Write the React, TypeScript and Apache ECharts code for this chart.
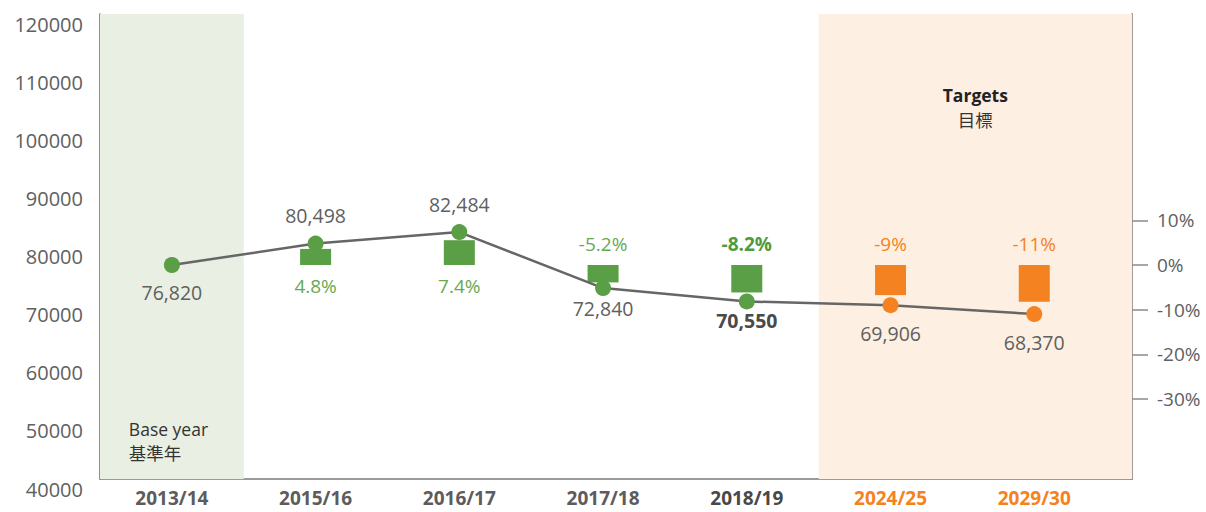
import { useEffect, useRef } from "react";
import * as echarts from "echarts";

// ---- data ----
const categories = ["2013/14", "2015/16", "2016/17", "2017/18", "2018/19", "2024/25", "2029/30"];
const emissions = [76820, 80498, 82484, 72840, 70550, 69906, 68370];
const changePct: (number | null)[] = [null, 4.8, 7.4, -5.2, -8.2, -9, -11];
const kinds = ["base", "actual", "actual", "actual", "latest", "target", "target"];
const leftTicks = [40000, 50000, 60000, 70000, 80000, 90000, 100000, 110000, 120000];
const pctTicks = [-30, -20, -10, 0, 10];
const bandBaseLines = ["Base year", "基準年"];
const bandTargetTitle = "Targets";
const bandTargetSub = "目標";

// ---- styles ----
const GREEN = "#5a9e45";
const GREEN_TEXT = "#68a950";
const GREEN_DARK_TEXT = "#4f9a3c";
const ORANGE = "#f58220";
const GREY_TEXT = "#606060";
const FONT = "'Open Sans', 'Noto Sans CJK TC', sans-serif";
const valueLabelPos = ["bottom", "top", "top", "bottom", "bottom", "bottom", "bottom"];
const valueLabelDist = [10, 10, 10, 3, 1, 11, 11];

const Y_MIN = leftTicks[0];
const Y_MAX = leftTicks[leftTicks.length - 1];
const Y_STEP = leftTicks[1] - leftTicks[0];
const BASE = emissions[0];
const PCT_MIN = (Y_MIN / BASE - 1) * 100;
const PCT_MAX = (Y_MAX / BASE - 1) * 100;
const BAR_SCALE = 0.75;
const X_MIN = -0.5;
const X_MAX = 6.68;

const isTarget = (i: number) => kinds[i] === "target";
const markColor = (i: number) => (isTarget(i) ? ORANGE : GREEN);

export default function App() {
  const ref = useRef<HTMLDivElement>(null);

  useEffect(() => {
    if (!ref.current) return;
    const chart = echarts.init(ref.current, undefined, { renderer: "svg" });

    const barData = changePct
      .map((p, i) => {
        if (p === null) return null;
        const neg = p < 0;
        const latest = kinds[i] === "latest";
        return {
          value: [i, p],
          itemStyle: { color: markColor(i) },
          label: {
            show: true,
            position: neg ? "top" : "bottom",
            distance: neg ? 11 : 12,
            formatter: `${p}%`,
            fontFamily: FONT,
            fontSize: 19,
            fontWeight: latest ? "bold" : "normal",
            color: isTarget(i) ? ORANGE : latest ? GREEN_DARK_TEXT : GREEN_TEXT,
          },
        };
      })
      .filter((d) => d !== null);

    const lineData = emissions.map((v, i) => ({
      value: [i, v],
      itemStyle: { color: markColor(i) },
      label: {
        show: true,
        position: valueLabelPos[i],
        distance: valueLabelDist[i],
        formatter: v.toLocaleString("en-US"),
        fontFamily: FONT,
        fontSize: 19.5,
        fontWeight: kinds[i] === "latest" ? "bold" : "normal",
        color: kinds[i] === "latest" ? "#4a4a4a" : GREY_TEXT,
      },
    }));

    const option: any = {
      animation: false,
      backgroundColor: "#ffffff",
      textStyle: { fontFamily: FONT },
      grid: { left: 100, right: 1206 - 1132, top: 14, bottom: 33, containLabel: false, outerBoundsMode: "none" },
      xAxis: {
        type: "value",
        min: X_MIN,
        max: X_MAX,
        splitLine: { show: false },
        axisTick: { show: false },
        axisLine: { show: true, onZero: false, lineStyle: { color: "#7a7a7a", width: 1.5 } },
        axisLabel: {
          customValues: categories.map((_, i) => i),
          margin: 9,
          formatter: (v: number) => {
            const i = Math.round(v);
            return `{${isTarget(i) ? "o" : kinds[i] === "latest" ? "d" : "g"}|${categories[i]}}`;
          },
          rich: {
            g: { fontFamily: FONT, fontSize: 19, fontWeight: "bold", color: "#5c5c5c" },
            d: { fontFamily: FONT, fontSize: 19, fontWeight: "bold", color: "#484848" },
            o: { fontFamily: FONT, fontSize: 19, fontWeight: "bold", color: ORANGE },
          },
        },
      },
      yAxis: [
        {
          type: "value",
          position: "left",
          min: Y_MIN,
          max: Y_MAX,
          interval: Y_STEP,
          splitLine: { show: false },
          axisTick: { show: false },
          axisLine: { show: true, onZero: false, lineStyle: { color: "#6a6a6a", width: 1.5 } },
          axisLabel: {
            margin: 17,
            fontFamily: FONT,
            fontSize: 20,
            color: GREY_TEXT,
            verticalAlign: "top",
            lineHeight: 20,
            formatter: (v: number) => String(v),
          },
        },
        {
          type: "value",
          position: "right",
          min: PCT_MIN,
          max: PCT_MAX,
          splitLine: { show: false },
          axisLine: { show: true, onZero: false, lineStyle: { color: "#a39b94", width: 2 } },
          axisTick: {
            show: true,
            customValues: pctTicks,
            length: 16,
            lineStyle: { color: "#8a8a8a", width: 1.5 },
          },
          axisLabel: {
            customValues: pctTicks,
            margin: 25,
            fontFamily: FONT,
            fontSize: 19,
            color: GREY_TEXT,
            formatter: (v: number) => `${v}%`,
          },
        },
        {
          type: "value",
          show: false,
          min: PCT_MIN / BAR_SCALE,
          max: PCT_MAX / BAR_SCALE,
          splitLine: { show: false },
        },
      ],
      series: [
        {
          type: "line",
          data: [],
          z: 1,
          silent: true,
          markArea: {
            silent: true,
            data: [
              [
                {
                  xAxis: X_MIN,
                  itemStyle: { color: "#e9efe3" },
                  label: {
                    show: true,
                    position: "insideBottom",
                    distance: 14,
                    formatter: bandBaseLines.map((t) => `{a|${t}}`).join("\n"),
                    align: "center",
                    rich: {
                      a: {
                        fontFamily: FONT,
                        fontSize: 17.5,
                        lineHeight: 24,
                        color: "#333333",
                        width: 86,
                        align: "left",
                      },
                    },
                  },
                },
                { xAxis: 0.5 },
              ],
              [
                {
                  xAxis: 4.5,
                  itemStyle: { color: "#fdefe2" },
                  label: {
                    show: true,
                    position: "insideTop",
                    distance: 68,
                    formatter: `{t|${bandTargetTitle}}\n{c|${bandTargetSub}}`,
                    rich: {
                      t: { fontFamily: FONT, fontSize: 17.5, fontWeight: "bold", color: "#222222", lineHeight: 25, align: "center" },
                      c: { fontFamily: FONT, fontSize: 17.5, color: "#333333", lineHeight: 25, align: "center" },
                    },
                  },
                },
                { xAxis: X_MAX },
              ],
            ],
          },
        },
        {
          type: "bar",
          yAxisIndex: 2,
          barWidth: 31,
          z: 2,
          data: barData,
        },
        {
          type: "line",
          yAxisIndex: 0,
          z: 3,
          symbol: "circle",
          symbolSize: 16,
          lineStyle: { color: "#666666", width: 2.5 },
          data: lineData,
        },
      ],
    };

    chart.setOption(option);
    return () => chart.dispose();
  }, []);

  return (
    <div
      ref={ref}
      style={{ position: "absolute", left: 0, top: 0, width: 1206, height: 512 }}
    />
  );
}
